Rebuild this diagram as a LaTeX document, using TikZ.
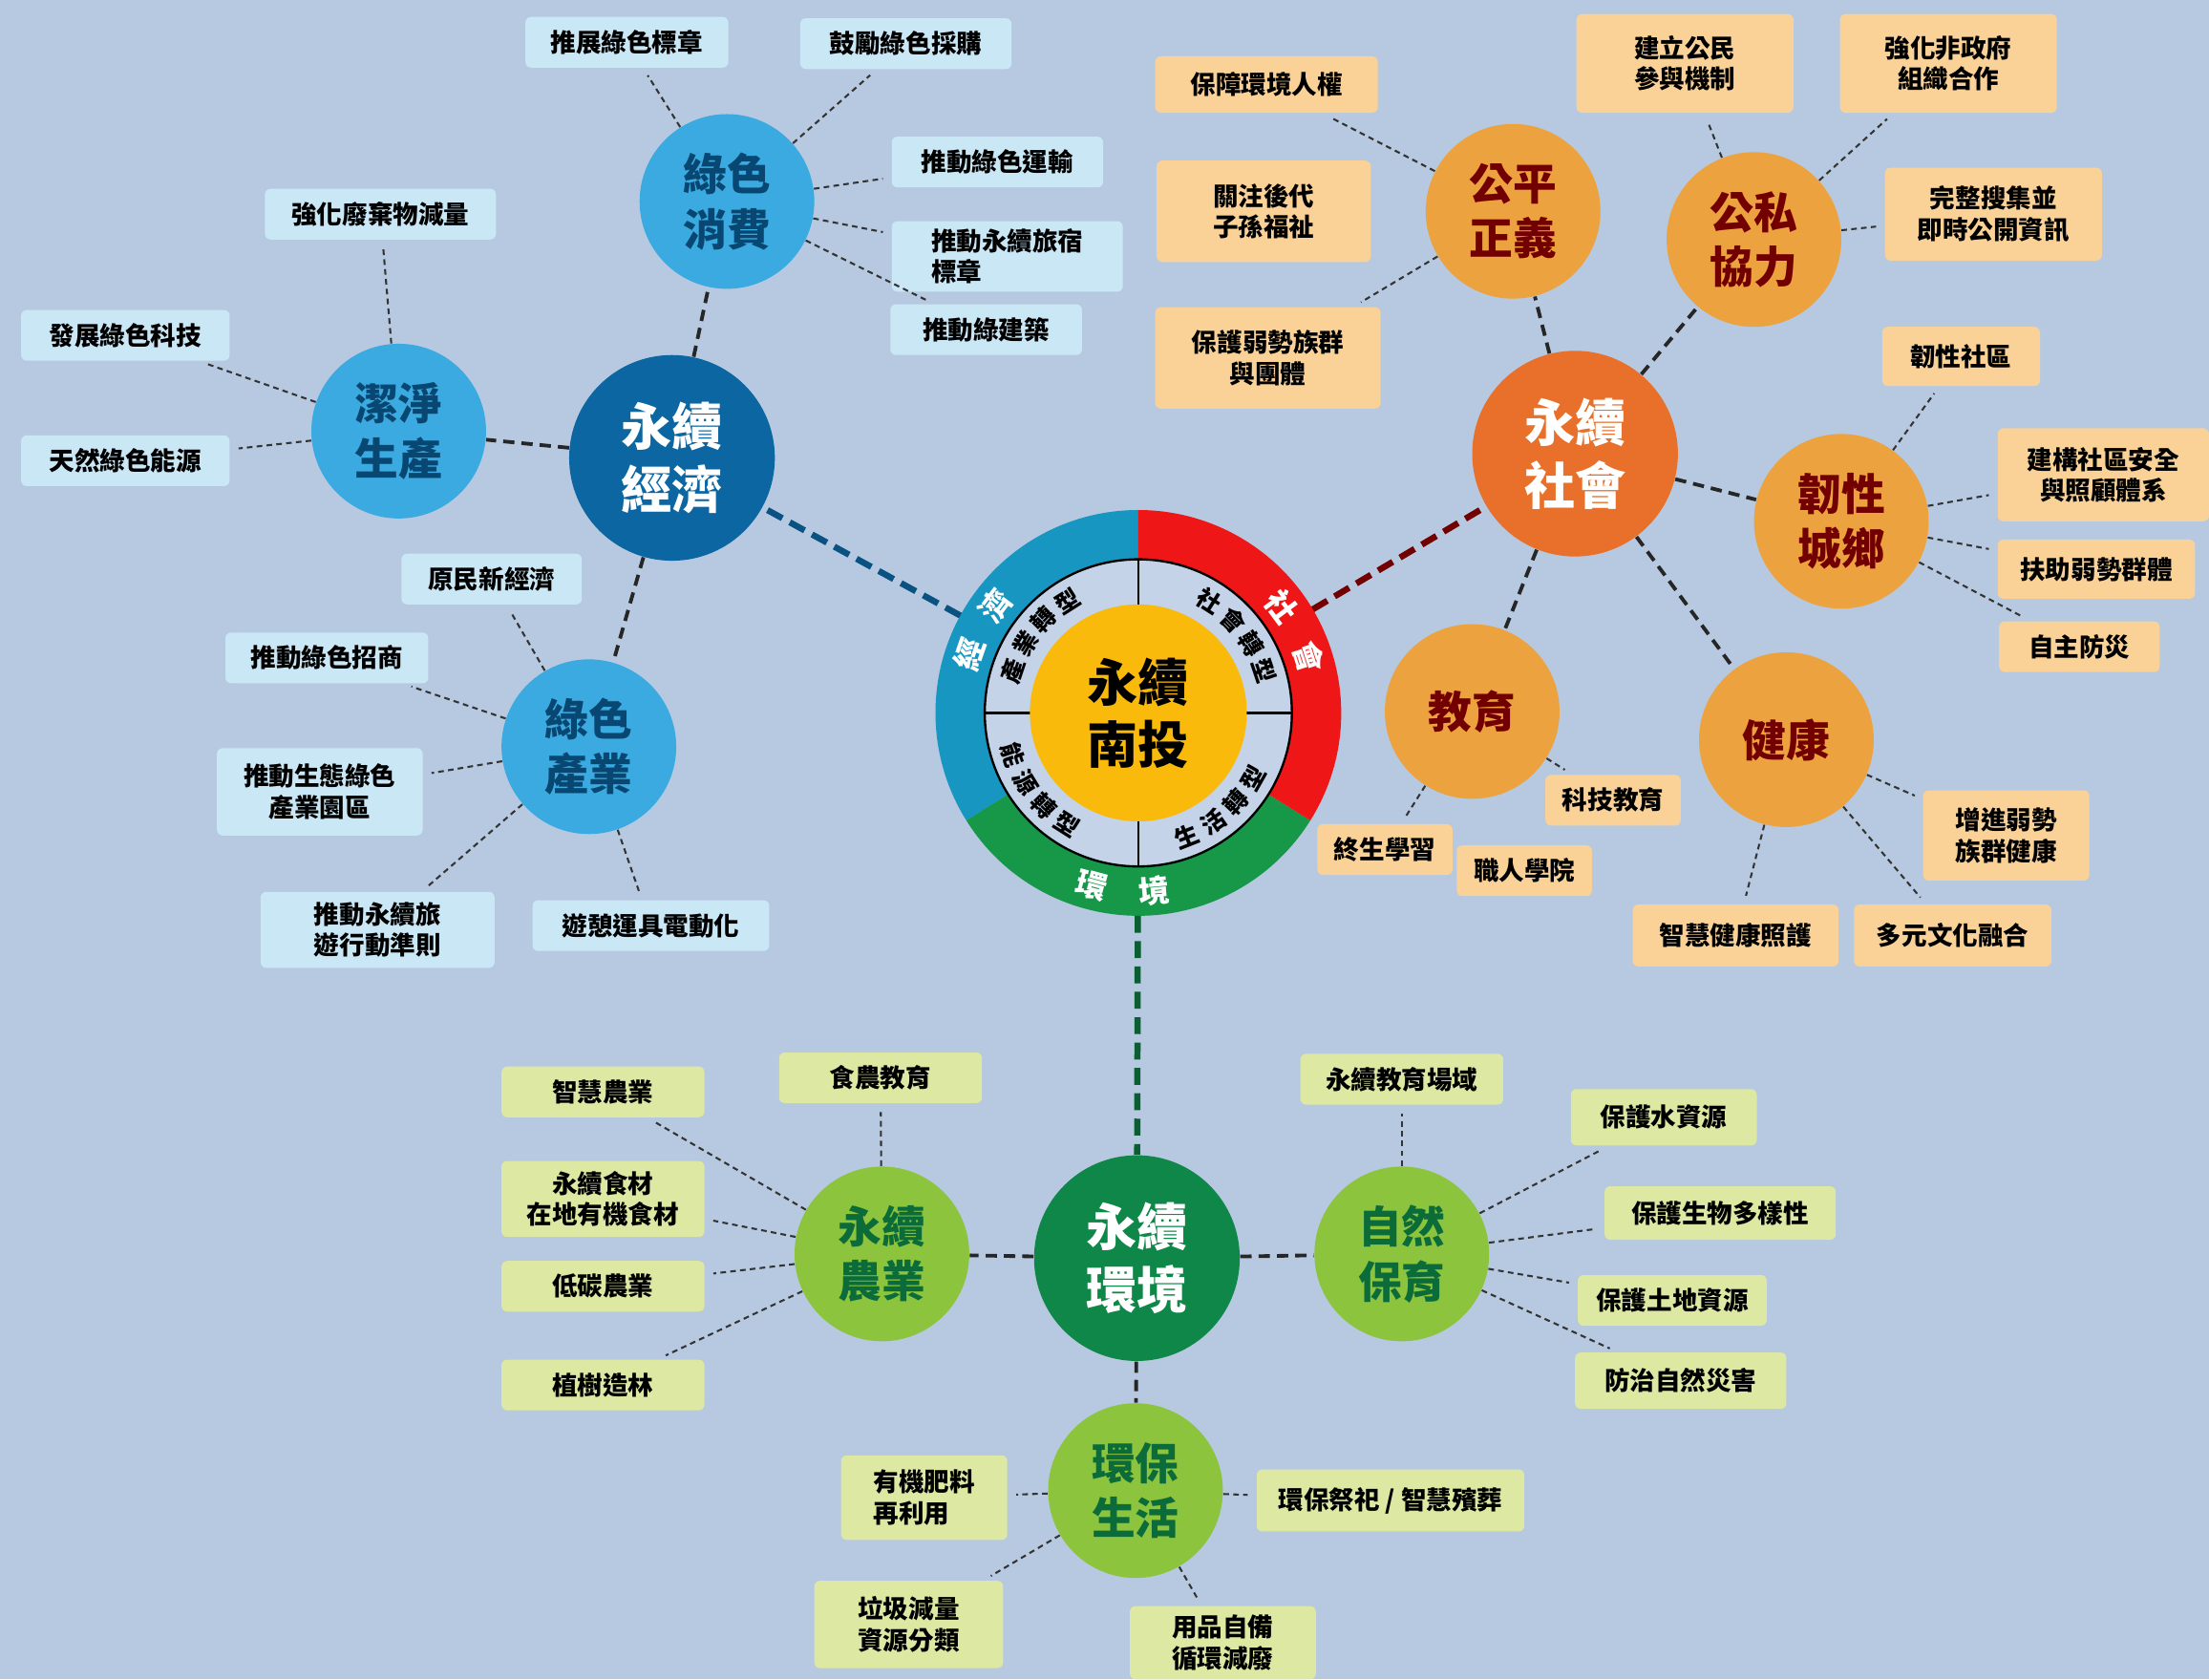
\documentclass[tikz,border=0pt]{standalone}
\usepackage{fontspec}
\setmainfont{Noto Sans CJK TC}

\definecolor{bgblue}{RGB}{182,201,224}
\definecolor{econblue}{RGB}{12,102,162}
\definecolor{subblue}{RGB}{58,170,225}
\definecolor{boxblue}{RGB}{202,231,246}
\definecolor{socorange}{RGB}{232,112,42}
\definecolor{suborange}{RGB}{236,162,62}
\definecolor{boxorange}{RGB}{250,210,152}
\definecolor{envgreen}{RGB}{14,135,72}
\definecolor{subgreen}{RGB}{140,196,62}
\definecolor{boxgreen}{RGB}{221,232,162}
\definecolor{ringcyan}{RGB}{22,150,192}
\definecolor{ringred}{RGB}{238,22,22}
\definecolor{ringgreen}{RGB}{22,152,72}
\definecolor{ringlight}{RGB}{196,211,232}
\definecolor{nantouyellow}{RGB}{250,186,12}

\tikzset{
  mainc/.style={circle, minimum size=73pt, inner sep=0pt, align=center, text=white,
    font=\fontsize{18}{22.5}\selectfont\bfseries},
  subc/.style={circle, minimum size=62pt, inner sep=0pt, align=center,
    font=\fontsize{15.5}{19.5}\selectfont\bfseries},
  leafbox/.style={rounded corners=2pt, inner sep=2pt, minimum height=18pt, align=center,
    font=\fontsize{9}{11}\selectfont\bfseries},
  ebox/.style={leafbox, fill=boxblue},
  sbox/.style={leafbox, fill=boxorange},
  gbox/.style={leafbox, fill=boxgreen},
  mainlink/.style={line width=2.2pt, dash pattern=on 6pt off 3pt},
  sublink/.style={line width=1.3pt, color=black!85, dash pattern=on 4pt off 2.5pt},
  leaf/.style={line width=0.7pt, color=black!80, dash pattern=on 2pt off 1.5pt, shorten >=3pt},
  ringtxt/.style={text=white, inner sep=0pt, font=\fontsize{11}{11}\selectfont\bfseries},
  ringin/.style={inner sep=0pt, font=\fontsize{8.5}{8.5}\selectfont\bfseries}
}

\begin{document}
\begin{tikzpicture}[x=0.5pt, y=-0.5pt]

  \useasboundingbox (0,0) rectangle (1568,1192);
  \fill[bgblue] (0,0) rectangle (1568,1192);

  % wheel in the middle
  \begin{scope}[shift={(808,506)}]
    \fill[ringcyan] (90:72pt) arc[start angle=90, end angle=212, radius=72pt]
      -- (212:54.5pt) arc[start angle=212, end angle=90, radius=54.5pt] -- cycle;
    \fill[ringgreen] (212:72pt) arc[start angle=212, end angle=328, radius=72pt]
      -- (328:54.5pt) arc[start angle=328, end angle=212, radius=54.5pt] -- cycle;
    \fill[ringred] (328:72pt) arc[start angle=328, end angle=450, radius=72pt]
      -- (90:54.5pt) arc[start angle=90, end angle=-32, radius=54.5pt] -- cycle;
    \fill[ringlight] (0,0) circle[radius=54.5pt];
    \draw[line width=0.8pt] (0,0) circle[radius=54.5pt];
    \foreach \a in {0,90,180,270}
      \draw[line width=0.8pt] (\a:38pt) -- (\a:54.5pt);

    \node[ringtxt, rotate=71] (rle1) at (161:63.5pt) {經};
    \node[ringtxt, rotate=53] (rle2) at (143:63.5pt) {濟};
    \node[ringtxt, rotate=-53.4] (rls1) at (36.6:63.5pt) {社};
    \node[ringtxt, rotate=-72] (rls2) at (18:63.5pt) {會};
    \node[ringtxt, rotate=-15] (rlv1) at (255:63.5pt) {環};
    \node[ringtxt, rotate=5] (rlv2) at (275:63.5pt) {境};

    \foreach \a/\c [count=\i] in {161.5/產,148.5/業,135.5/轉,122.5/型}
      \node[ringin, rotate=\a-90] (tin\i) at (\a:47pt) {\c};
    \foreach \a/\c [count=\i] in {57.5/社,44.5/會,31.5/轉,18.5/型}
      \node[ringin, rotate=\a-90] (tso\i) at (\a:47pt) {\c};
    \foreach \a/\c [count=\i] in {198.5/能,211.5/源,224.5/轉,237.5/型}
      \node[ringin, rotate=\a+90] (ten\i) at (\a:47pt) {\c};
    \foreach \a/\c [count=\i] in {291.5/生,304.5/活,317.5/轉,330.5/型}
      \node[ringin, rotate=\a+90] (tli\i) at (\a:47pt) {\c};
  \end{scope}

  \node[circle, minimum size=144pt, inner sep=0pt, outer sep=0pt] (wheel) at (808,506) {};
  \node[circle, fill=nantouyellow, minimum size=77pt, inner sep=0pt, align=center,
    font=\fontsize{18}{22}\selectfont\bfseries] (nantou) at (808,506) {永續\\南投};

  % main circles
  \node[mainc, fill=econblue] (econ) at (477,325) {永續\\經濟};
  \node[mainc, fill=socorange] (soc) at (1118,322) {永續\\社會};
  \node[mainc, fill=envgreen] (env) at (807,893) {永續\\環境};

  \draw[mainlink, color=econblue!80!black] (wheel) -- (econ);
  \draw[mainlink, color=red!45!black] (wheel) -- (soc);
  \draw[mainlink, color=envgreen!70!black] (wheel) -- (env);

  % sub circles
  \node[subc, fill=subblue, text=econblue!70!black] (cons) at (516,143) {綠色\\消費};
  \node[subc, fill=subblue, text=econblue!70!black] (clean) at (283,306) {潔淨\\生產};
  \node[subc, fill=subblue, text=econblue!70!black] (ind) at (418,530) {綠色\\產業};

  \node[subc, fill=suborange, text=red!45!black] (just) at (1074,150) {公平\\正義};
  \node[subc, fill=suborange, text=red!45!black] (ppp) at (1245,170) {公私\\協力};
  \node[subc, fill=suborange, text=red!45!black] (resil) at (1307,370) {韌性\\城鄉};
  \node[subc, fill=suborange, text=red!45!black] (edu) at (1045,505) {教育};
  \node[subc, fill=suborange, text=red!45!black] (hlt) at (1268,525) {健康};

  \node[subc, fill=subgreen, text=envgreen!80!black] (agri) at (626,890) {永續\\農業};
  \node[subc, fill=subgreen, text=envgreen!80!black] (nat) at (995,890) {自然\\保育};
  \node[subc, fill=subgreen, text=envgreen!80!black] (life) at (806,1058) {環保\\生活};

  \foreach \s in {cons,clean,ind} \draw[sublink] (econ) -- (\s);
  \foreach \s in {just,ppp,resil,edu,hlt} \draw[sublink] (soc) -- (\s);
  \foreach \s in {agri,nat,life} \draw[sublink] (env) -- (\s);

  % economy boxes
  \node[ebox, minimum width=72pt] (cons1) at (445,30) {推展綠色標章};
  \node[ebox, minimum width=75pt] (cons2) at (643,31) {鼓勵綠色採購};
  \node[ebox, minimum width=75pt] (cons3) at (708,115) {推動綠色運輸};
  \node[ebox, minimum width=82pt, minimum height=25pt, align=left] (cons4) at (715,182) {推動永續旅宿\\標章};
  \node[ebox, minimum width=68pt] (cons5) at (700,234) {推動綠建築};
  \node[ebox, minimum width=82pt] (clean1) at (270,152) {強化廢棄物減量};
  \node[ebox, minimum width=74pt] (clean2) at (89,238) {發展綠色科技};
  \node[ebox, minimum width=74pt] (clean3) at (89,327) {天然綠色能源};
  \node[ebox, minimum width=64pt] (ind1) at (349,411) {原民新經濟};
  \node[ebox, minimum width=72pt] (ind2) at (232,467) {推動綠色招商};
  \node[ebox, minimum width=73pt, minimum height=31pt] (ind3) at (227,562) {推動生態綠色\\產業園區};
  \node[ebox, minimum width=83pt, minimum height=27pt] (ind4) at (268,660) {推動永續旅\\遊行動準則};
  \node[ebox, minimum width=84pt] (ind5) at (462,657) {遊憩運具電動化};

  % society boxes
  \node[sbox, minimum width=79pt, minimum height=20pt] (just1) at (899,60) {保障環境人權};
  \node[sbox, minimum width=76pt, minimum height=36pt] (just2) at (897,150) {關注後代\\子孫福祉};
  \node[sbox, minimum width=80pt, minimum height=36pt] (just3) at (900,254) {保護弱勢族群\\與團體};
  \node[sbox, minimum width=77pt, minimum height=35pt] (ppp1) at (1196,45) {建立公民\\參與機制};
  \node[sbox, minimum width=77pt, minimum height=35pt] (ppp2) at (1383,45) {強化非政府\\組織合作};
  \node[sbox, minimum width=77pt, minimum height=33pt] (ppp3) at (1415,152) {完整搜集並\\即時公開資訊};
  \node[sbox, minimum width=56pt, minimum height=21pt] (res1) at (1392,253) {韌性社區};
  \node[sbox, minimum width=75pt, minimum height=33pt] (res2) at (1493,337) {建構社區安全\\與照顧體系};
  \node[sbox, minimum width=70pt, minimum height=21pt] (res3) at (1488,404) {扶助弱勢群體};
  \node[sbox, minimum width=57pt] (res4) at (1476,459) {自主防災};
  \node[sbox, minimum width=48pt] (edu1) at (1145,568) {科技教育};
  \node[sbox, minimum width=48pt] (edu2) at (983,603) {終生學習};
  \node[sbox, minimum width=48pt] (edu3) at (1082,618) {職人學院};
  \node[sbox, minimum width=59pt, minimum height=32pt] (hlt1) at (1424,593) {增進弱勢\\族群健康};
  \node[sbox, minimum width=73pt, minimum height=22pt] (hlt2) at (1232,664) {智慧健康照護};
  \node[sbox, minimum width=70pt, minimum height=22pt] (hlt3) at (1386,664) {多元文化融合};

  % environment boxes
  \node[gbox, minimum width=72pt] (agr1) at (428,775) {智慧農業};
  \node[gbox, minimum width=72pt] (agr2) at (625,765) {食農教育};
  \node[gbox, minimum width=72pt, minimum height=27pt] (agr3) at (428,851) {永續食材\\在地有機食材};
  \node[gbox, minimum width=72pt] (agr4) at (428,913) {低碳農業};
  \node[gbox, minimum width=72pt] (agr5) at (428,983) {植樹造林};
  \node[gbox, minimum width=72pt] (nat1) at (995,766) {永續教育場域};
  \node[gbox, minimum width=66pt, minimum height=20pt] (nat2) at (1181,793) {保護水資源};
  \node[gbox, minimum width=82pt, minimum height=19pt] (nat3) at (1221,861) {保護生物多樣性};
  \node[gbox, minimum width=67pt] (nat4) at (1187,923) {保護土地資源};
  \node[gbox, minimum width=75pt, minimum height=20pt] (nat5) at (1193,980) {防治自然災害};
  \node[gbox, minimum width=59pt, minimum height=30pt, align=left] (life1) at (656,1063) {有機肥料\\再利用};
  \node[gbox, minimum width=95pt, minimum height=22pt] (life2) at (987,1065) {環保祭祀 / 智慧殯葬};
  \node[gbox, minimum width=67pt, minimum height=31pt] (life3) at (645,1153) {垃圾減量\\資源分類};
  \node[gbox, minimum width=66pt, minimum height=26pt] (life4) at (868,1166) {用品自備\\循環減廢};

  % leaf connectors
  \foreach \b in {cons1,cons2,cons3,cons4,cons5} \draw[leaf] (cons) -- (\b);
  \foreach \b in {clean1,clean2,clean3} \draw[leaf] (clean) -- (\b);
  \foreach \b in {ind1,ind2,ind3,ind4,ind5} \draw[leaf] (ind) -- (\b);
  \foreach \b in {just1,just3} \draw[leaf] (just) -- (\b);
  \foreach \b in {ppp1,ppp2,ppp3} \draw[leaf] (ppp) -- (\b);
  \foreach \b in {res1,res2,res3,res4} \draw[leaf] (resil) -- (\b);
  \foreach \b in {edu1,edu2} \draw[leaf] (edu) -- (\b);
  \foreach \b in {hlt1,hlt2,hlt3} \draw[leaf] (hlt) -- (\b);
  \foreach \b in {agr1,agr2,agr3,agr4,agr5} \draw[leaf] (agri) -- (\b);
  \foreach \b in {nat1,nat2,nat3,nat4,nat5} \draw[leaf] (nat) -- (\b);
  \foreach \b in {life1,life2,life3,life4} \draw[leaf] (life) -- (\b);

\end{tikzpicture}
\end{document}
